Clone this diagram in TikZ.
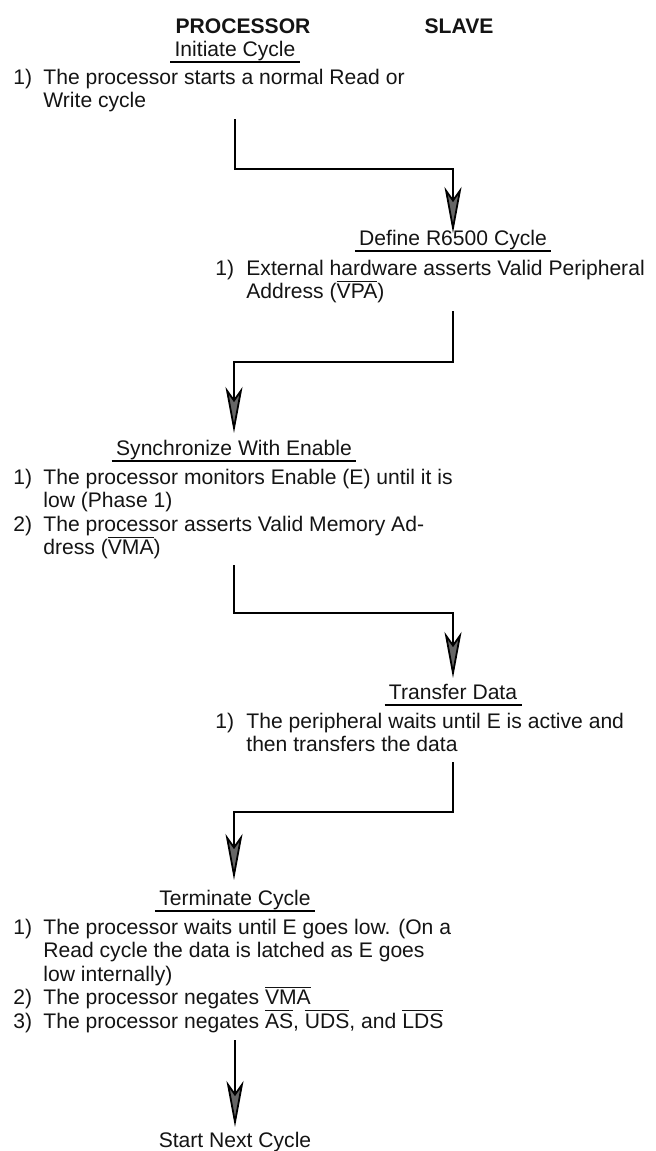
\documentclass[tikz,border=0pt]{standalone}
\usepackage{fontspec}
\setmainfont{Liberation Sans}
\usetikzlibrary{arrows.meta,positioning}

% active-low signal names
\newcommand{\sig}[1]{$\overline{\mbox{#1}}$}

\tikzset{
	every node/.style={inner sep=0pt, text=black!92,
		font=\fontsize{10.55pt}{11.75pt}\selectfont},
	head/.style={anchor=base, font=\fontsize{10.55pt}{11.75pt}\selectfont\bfseries},
	title/.style={anchor=base},
	num/.style={anchor=base west},
	% a multi-line item sits on the baseline of its last line
	item/.style={anchor=base west, align=left},
	uline/.style={line width=1pt},
	flow/.style={line width=0.9pt,
		-{Stealth[length=23pt, width=8.5pt, inset=6pt, fill=black!60]}}
}

\begin{document}
\begin{tikzpicture}[x=0.5pt, y=-0.5pt]
		\useasboundingbox (0,0) rectangle (656,1151);
		% column heads
		\node[head] (proc) at (243,33) {PROCESSOR};
		\node[head] (slave) at (459,33) {SLAVE};
		% steps
		\node[title] (init) at (235,56) {Initiate Cycle};
		\node[num] (init-n1) at (13,84) {1)};
		\node[item] (init-t1) at (43,107.5) {The processor starts a normal Read or\\Write cycle};
		\node[title] (define) at (453,245) {Define R6500 Cycle};
		\node[num] (define-n1) at (215,275) {1)};
		\node[item] (define-t1) at (246,298.5) {External hardware asserts Valid Peripheral\\Address (\sig{VPA})};
		\node[title] (sync) at (234,455) {Synchronize With Enable};
		\node[num] (sync-n1) at (13,484) {1)};
		\node[item] (sync-t1) at (43,507.5) {The processor monitors Enable (E) until it is\\low (Phase 1)};
		\node[num] (sync-n2) at (13,531) {2)};
		\node[item] (sync-t2) at (43,554.5) {The processor asserts Valid Memory Ad-\\dress (\sig{VMA})};
		\node[title] (xfer) at (453,699) {Transfer Data};
		\node[num] (xfer-n1) at (215,728) {1)};
		\node[item] (xfer-t1) at (246,751.5) {The peripheral waits until E is active and\\then transfers the data};
		\node[title] (term) at (235,905) {Terminate Cycle};
		\node[num] (term-n1) at (13,934) {1)};
		\node[item] (term-t1) at (43,981) {The processor waits until E goes low. (On a\\Read cycle the data is latched as E goes\\low internally)};
		\node[num] (term-n2) at (13,1004.5) {2)};
		\node[item] (term-t2) at (43,1004.5) {The processor negates \sig{VMA}};
		\node[num] (term-n3) at (13,1028) {3)};
		\node[item] (term-t3) at (43,1028) {The processor negates \sig{AS}, \sig{UDS}, and \sig{LDS}};
		\node[title] (next) at (235,1147) {Start Next Cycle};
		\foreach \t in {init, define, sync, xfer, term, next}
		\draw[uline] ([xshift=-2pt, yshift=-3pt]\t.base west) -- ([xshift=2pt, yshift=-3pt]\t.base east);
		% connectors
		\coordinate (init-out) at (235,119);
		\coordinate (define-in) at (453,233);
		\coordinate (define-out) at (453,311);
		\coordinate (sync-in) at (234,433);
		\coordinate (sync-out) at (234,565);
		\coordinate (xfer-in) at (453,678);
		\coordinate (xfer-out) at (453,762);
		\coordinate (term-in) at (234,880);
		\coordinate (term-out) at (235,1040);
		\coordinate (next-in) at (235,1127);
		\draw[flow] (init-out) -- ++(0,50) -| (define-in);
		\draw[flow] (define-out) -- ++(0,51) -| (sync-in);
		\draw[flow] (sync-out) -- ++(0,48) -| (xfer-in);
		\draw[flow] (xfer-out) -- ++(0,50) -| (term-in);
		\draw[flow] (term-out) -- (next-in);
	\end{tikzpicture}
\end{document}
